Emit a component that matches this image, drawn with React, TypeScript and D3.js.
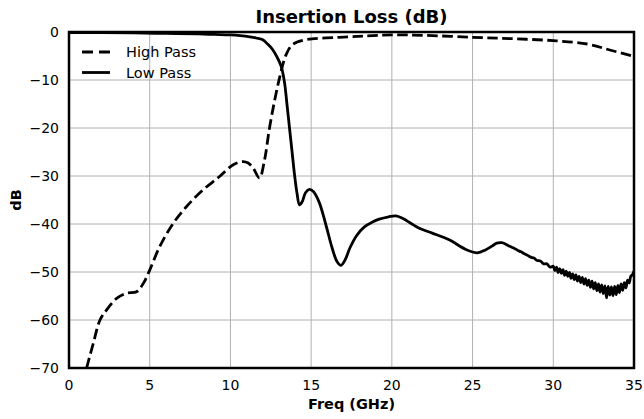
import React, { useEffect, useRef } from 'react';
import * as d3 from 'd3';

// High pass filter insertion loss (dashed)
const hpFreq = [1.09, 1.5, 1.92, 2.33, 2.95, 3.57, 4.19, 4.6, 5.0, 5.62, 6.45, 7.27, 8.3, 9.33, 10.15, 10.77, 11.1, 11.4, 11.8, 12.1, 12.42, 12.73, 13.04, 13.45, 13.86, 14.7, 16.75, 18.5, 20, 22, 25, 27.5, 30, 32.1, 33.5, 35];
const hpDb = [-70, -64.9, -60, -57.9, -55.5, -54.4, -54.1, -52.4, -49.6, -44.7, -39.9, -36.4, -32.9, -30.1, -27.7, -27.0, -27.3, -28.3, -30.4, -26.9, -20, -14.4, -9.6, -4.7, -2.6, -1.6, -1.1, -0.8, -0.6, -0.7, -1.1, -1.4, -1.8, -2.5, -3.75, -5.1];

// Low pass filter insertion loss (solid)
const lpFreq = [0, 2, 4, 6, 8, 9, 10, 10.6, 11.2, 11.6, 12.0, 12.3, 12.6, 12.9, 13.15, 13.35, 13.5, 13.66, 13.82, 13.97, 14.12, 14.28, 14.45, 14.65, 14.9, 15.15, 15.5, 15.9, 16.3, 16.6, 16.85, 17.1, 17.4, 17.8, 18.3, 18.8, 19.22, 19.8, 20.25, 20.66, 21.2, 21.7, 22.5, 23.55, 24.58, 25.3, 25.8, 26.2, 26.5, 26.8, 27.05,
  27.2, 27.4, 27.6, 27.8, 28.0, 28.2, 28.4, 28.6, 28.8, 29.0, 29.2, 29.4, 29.6, 29.8,
  30.0, 30.1, 30.2, 30.3, 30.4, 30.5, 30.6, 30.7, 30.8, 30.9, 31.0, 31.1, 31.2, 31.3, 31.4, 31.5, 31.6, 31.7, 31.8, 31.9,
  32.0, 32.1, 32.2, 32.3, 32.4, 32.5, 32.6, 32.7, 32.8, 32.9, 33.0, 33.1, 33.2, 33.3, 33.4, 33.5, 33.6, 33.7, 33.8, 33.9,
  34.0, 34.1, 34.2, 34.3, 34.4, 34.5, 34.6, 34.7, 34.8, 34.9, 35.0];
const lpDb = [-0.1, -0.15, -0.2, -0.3, -0.4, -0.5, -0.6, -0.75, -1.0, -1.25, -1.6, -2.5, -3.6, -5.3, -7.2, -10.5, -15, -20, -25, -29.7, -33.5, -36.0, -35.3, -33.5, -32.8, -33.3, -35.5, -40, -45, -47.8, -48.6, -47.5, -45, -42.5, -40.6, -39.6, -39.0, -38.5, -38.3, -38.8, -39.9, -40.9, -41.9, -43.3, -45.3, -46.0, -45.4, -44.6, -44.0, -43.9, -44.2,
  -44.5, -44.8, -45.1, -45.5, -45.8, -46.2, -46.5, -46.9, -47.1, -47.6, -47.7, -48.3, -48.3, -49.0,
  -48.8, -49.7, -49.0, -50.1, -49.3, -50.3, -49.5, -50.7, -49.8, -50.9, -50.1, -51.3, -50.4, -51.6, -50.6, -51.9, -50.9, -52.2, -51.1, -52.5,
  -51.4, -52.8, -51.7, -53.2, -51.9, -53.5, -52.2, -53.9, -52.5, -54.2, -52.7, -54.5, -52.9, -55.4, -53.0, -54.8, -53.1, -54.9, -53.0, -54.7,
  -52.8, -54.3, -52.5, -53.8, -52.2, -53.3, -51.7, -52.3, -50.9, -50.6, -49.8];

const xTicks = [0, 5, 10, 15, 20, 25, 30, 35];
const yTicks = [0, -10, -20, -30, -40, -50, -60, -70];
const legendItems = ['High Pass', 'Low Pass'];

const App = () => {
  const ref = useRef<SVGSVGElement>(null);
  const width = 644;
  const height = 419;
  const margin = { top: 32, right: 10, bottom: 51, left: 69 };

  useEffect(() => {
    const svg = d3.select(ref.current);
    svg.selectAll('*').remove();

    const font = 'DejaVu Sans, sans-serif';
    const lw = 2.8;
    const dash = '10.5,4.5';

    const x = d3.scaleLinear()
      .domain([0, 35])
      .range([margin.left, width - margin.right]);
    const y = d3.scaleLinear()
      .domain([-70, 0])
      .range([height - margin.bottom, margin.top]);

    svg.append('rect')
      .attr('width', width)
      .attr('height', height)
      .attr('fill', '#fff');

    // grid
    svg.append('g')
      .selectAll('line')
      .data(xTicks)
      .join('line')
      .attr('x1', d => x(d)).attr('x2', d => x(d))
      .attr('y1', y(-70)).attr('y2', y(0))
      .attr('stroke', '#b0b0b0').attr('stroke-width', 1);
    svg.append('g')
      .selectAll('line')
      .data(yTicks)
      .join('line')
      .attr('x1', x(0)).attr('x2', x(35))
      .attr('y1', d => y(d)).attr('y2', d => y(d))
      .attr('stroke', '#b0b0b0').attr('stroke-width', 1);

    svg.append('clipPath').attr('id', 'plot-clip')
      .append('rect')
      .attr('x', x(0)).attr('y', y(0))
      .attr('width', x(35) - x(0)).attr('height', y(-70) - y(0));

    const line = d3.line<[number, number]>()
      .x(d => x(d[0]))
      .y(d => y(d[1]))
      .curve(d3.curveCatmullRom.alpha(0.5));

    const hp = hpFreq.map((f, i) => [f, hpDb[i]] as [number, number]);
    const lp = lpFreq.map((f, i) => [f, lpDb[i]] as [number, number]);

    const plot = svg.append('g').attr('clip-path', 'url(#plot-clip)');
    plot.append('path')
      .attr('d', line(hp))
      .attr('fill', 'none')
      .attr('stroke', '#000')
      .attr('stroke-width', lw)
      .attr('stroke-dasharray', dash);
    plot.append('path')
      .attr('d', line(lp))
      .attr('fill', 'none')
      .attr('stroke', '#000')
      .attr('stroke-width', lw)
      .attr('stroke-linejoin', 'round');

    // frame
    svg.append('rect')
      .attr('x', x(0)).attr('y', y(0))
      .attr('width', x(35) - x(0)).attr('height', y(-70) - y(0))
      .attr('fill', 'none')
      .attr('stroke', '#000')
      .attr('stroke-width', 2.5);

    // tick labels
    svg.append('g')
      .selectAll('text')
      .data(xTicks)
      .join('text')
      .attr('x', d => x(d))
      .attr('y', y(-70) + 22)
      .attr('text-anchor', 'middle')
      .attr('font-family', font)
      .attr('font-size', 14)
      .text(d => d3.format('')(d));
    svg.append('g')
      .selectAll('text')
      .data(yTicks)
      .join('text')
      .attr('x', x(0) - 10)
      .attr('y', d => y(d) + 5)
      .attr('text-anchor', 'end')
      .attr('font-family', font)
      .attr('font-size', 14)
      .text(d => (d < 0 ? '\u2212' + Math.abs(d) : String(d)));

    // titles
    svg.append('text')
      .attr('x', (x(0) + x(35)) / 2)
      .attr('y', 23)
      .attr('text-anchor', 'middle')
      .attr('font-family', font)
      .attr('font-weight', 'bold')
      .attr('font-size', 18)
      .text('Insertion Loss (dB)');
    svg.append('text')
      .attr('x', (x(0) + x(35)) / 2)
      .attr('y', 409)
      .attr('text-anchor', 'middle')
      .attr('font-family', font)
      .attr('font-weight', 'bold')
      .attr('font-size', 14.5)
      .text('Freq (GHz)');
    svg.append('text')
      .attr('transform', `translate(21,${(y(0) + y(-70)) / 2}) rotate(-90)`)
      .attr('text-anchor', 'middle')
      .attr('font-family', font)
      .attr('font-weight', 'bold')
      .attr('font-size', 14.5)
      .text('dB');

    // legend
    const legend = svg.append('g').attr('transform', 'translate(82,52)');
    legendItems.forEach((name, i) => {
      const g = legend.append('g').attr('transform', `translate(0,${i * 20.5})`);
      g.append('line')
        .attr('x1', 0).attr('x2', 28)
        .attr('y1', 0).attr('y2', 0)
        .attr('stroke', '#000')
        .attr('stroke-width', lw)
        .attr('stroke-dasharray', i === 0 ? '11,6' : null);
      g.append('text')
        .attr('x', 44)
        .attr('y', 5)
        .attr('font-family', font)
        .attr('font-size', 14.5)
        .text(name);
    });
  }, []);

  return (
    <svg
      ref={ref}
      width={width}
      height={height}
      style={{ position: 'absolute', left: 0, top: 0, display: 'block' }}
    />
  );
};

export default App;
